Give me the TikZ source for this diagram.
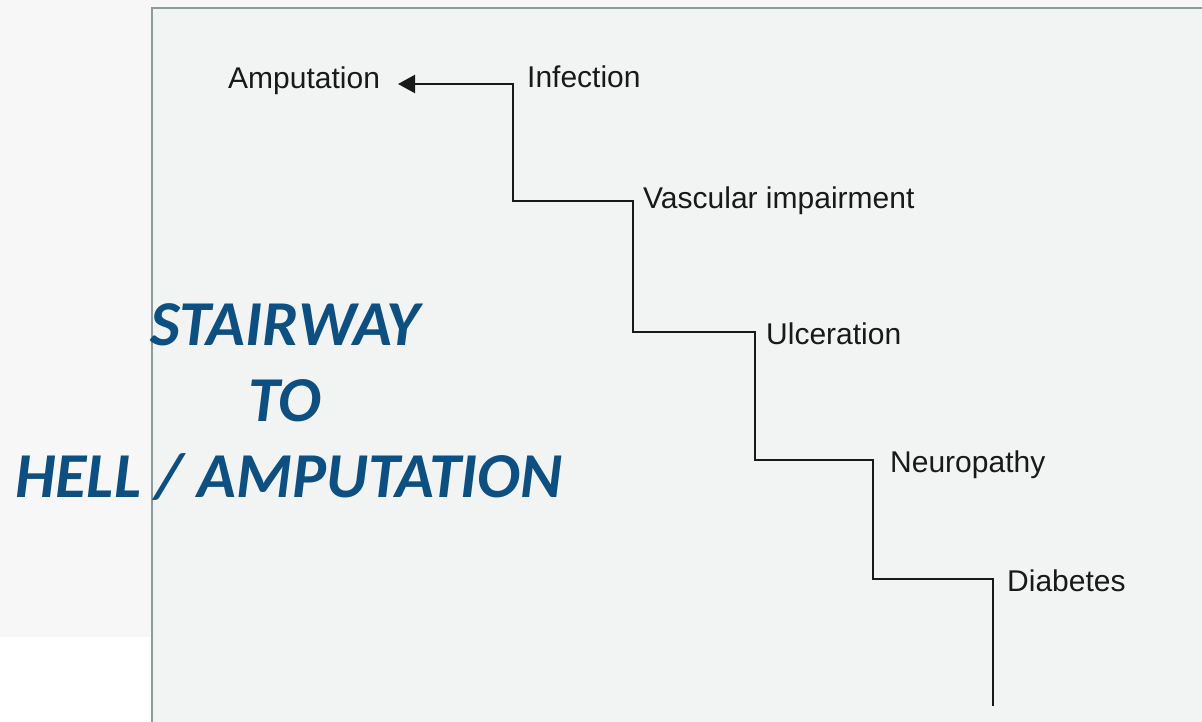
\documentclass[tikz,border=0pt]{standalone}
\usepackage{fontspec}
\setmainfont{Liberation Sans}
\newfontfamily\titlefont{Carlito}
\usetikzlibrary{arrows.meta}

\definecolor{pagebg}{HTML}{F7F7F7}
\definecolor{panelbg}{HTML}{F2F4F4}
\definecolor{panelrule}{HTML}{8A9C9C}
\definecolor{titleblue}{RGB}{14,79,130}

\tikzset{
  stage/.style={anchor=base west, inner sep=0pt, font=\fontsize{30}{34}\selectfont, text=black!90},
  headline/.style={anchor=base, inner sep=0pt, text=titleblue,
    font=\titlefont\bfseries\itshape\fontsize{64}{76}\selectfont},
  stair/.style={line width=2.2pt, draw=black!90, line join=miter},
}

\begin{document}
\begin{tikzpicture}[x=1pt, y=-1pt]
  \useasboundingbox (0,0) rectangle (1202,722);
  % backgrounds
  \fill[pagebg] (0,0) rectangle (1202,637);
  \fill[white] (0,637) rectangle (152,722);
  \fill[panelbg] (152,8) rectangle (1202,722);
  \draw[panelrule, line width=2pt] (152,722) -- (152,8) -- (1202,8);

  % stages of the stairway
  \node[stage] (amp)  at (228,89)  {Amputation};
  \node[stage] (inf)  at (527,88)  {Infection};
  \node[stage] (vasc) at (643,209) {Vascular impairment};
  \node[stage] (ulc)  at (766,344) {Ulceration};
  \node[stage] (neu)  at (890,472) {Neuropathy};
  \node[stage] (dia)  at (1007,591) {Diabetes};

  % corners of the staircase
  \coordinate (s0) at (993,706);
  \coordinate (s1) at (873,579);
  \coordinate (s2) at (755,460);
  \coordinate (s3) at (633,332);
  \coordinate (s4) at (513,201);
  \coordinate (s5) at (513,84);
  \coordinate (tip) at (398,84);

  \draw[stair, -{Triangle[length=17pt,width=18pt]}]
    (s0) |- (s1) |- (s2) |- (s3) |- (s4) -- (s5) -- (tip);

  % title
  \node[headline] (t1) at (285,345) {STAIRWAY};
  \node[headline] (t2) at (285,421) {TO};
  \node[headline] (t3) at (289,497) {HELL / AMPUTATION};
\end{tikzpicture}
\end{document}
